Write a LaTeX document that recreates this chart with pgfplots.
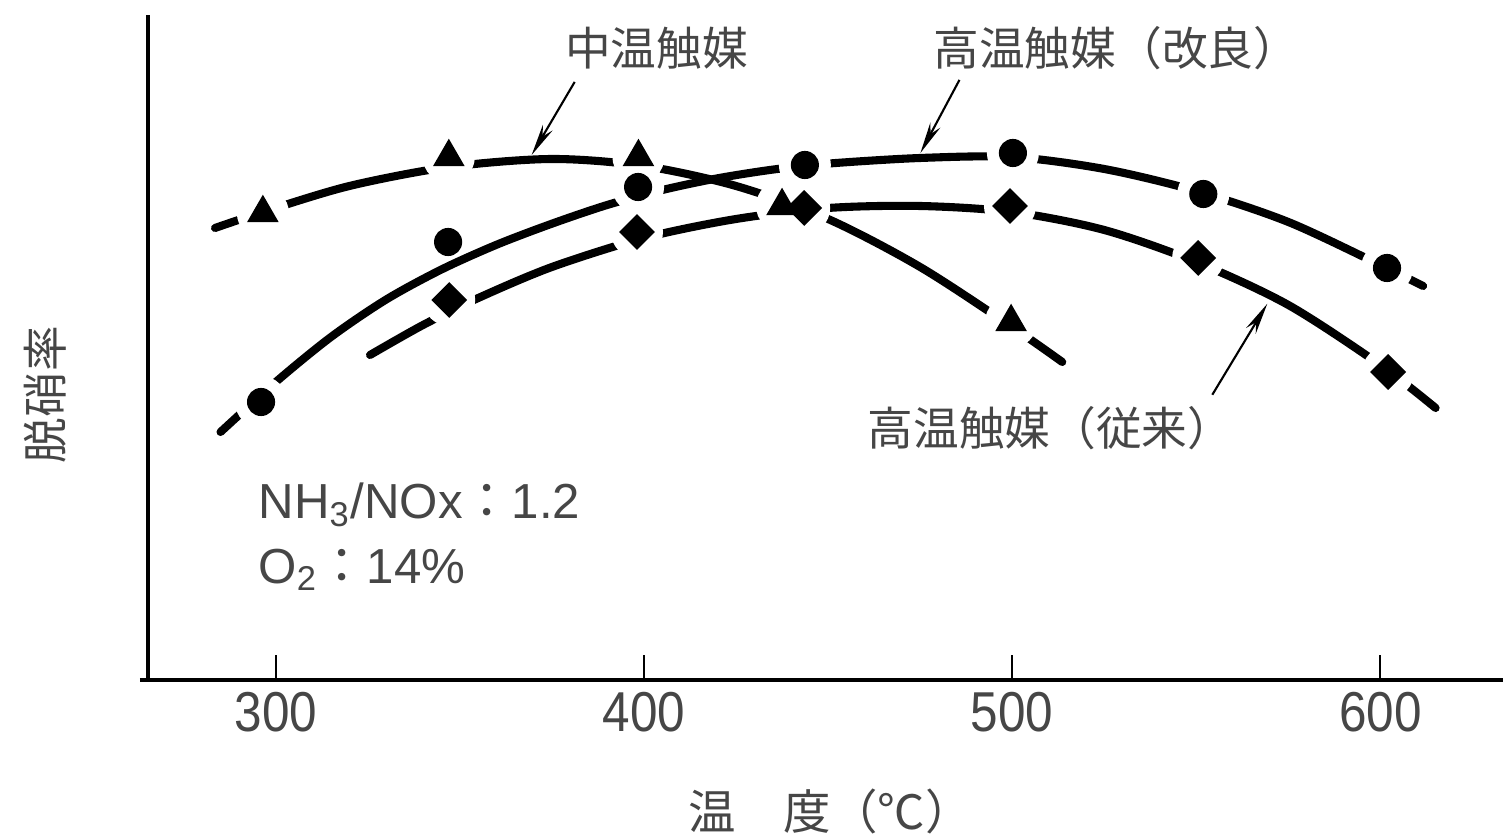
\documentclass[border=0pt]{standalone}
\usepackage{fontspec}
\usepackage{pgfplots}
\pgfplotsset{compat=1.18}
\usetikzlibrary{arrows.meta}
\setmainfont{Liberation Sans}
\newfontfamily\jp{Noto Sans CJK JP}
\newfontfamily\numfont[FakeStretch=0.88]{Liberation Sans}
\definecolor{txt}{HTML}{464646}

\begin{document}
\begin{tikzpicture}
\useasboundingbox (0,0) rectangle (15.03cm,8.34cm);
\begin{axis}[
  at={(1.48cm,1.54cm)}, anchor=south west,
  scale only axis, width=13.55cm, height=6.65cm,
  xmin=265.3, xmax=633.3, ymin=0, ymax=665,
  axis x line*=bottom, axis y line*=left,
  axis line style={line width=1.1pt, black},
  xtick={300,400,500,600}, xticklabels={300,400,500,600},
  ytick=\empty,
  tick align=inside, major tick length=0.25cm,
  tick style={line width=0.6pt, black},
  xticklabel style={font=\numfont\fontsize{16}{18}\selectfont, text=txt},
  clip=false,
]
% fitted curves
\addplot[line width=2.3pt, smooth, black, line cap=round] coordinates {
(283.5,452) (296.5,468) (320,494) (347,513) (375,521) (400,514) (425,494)
(450,461) (475,413) (500,353) (513.6,318)};
\addplot[line width=2.3pt, smooth, black, line cap=round] coordinates {
(285,248) (300,298) (315,343) (330,380.5) (345,410.5) (360,435.3) (375,456.3)
(390,475) (405,490) (420,501.7) (435,510.4) (450,516.4) (475,522) (500,523)
(525,511) (550,489) (575,458) (600,415) (611.6,394)};
\addplot[line width=2.3pt, smooth, black, line cap=round] coordinates {
(325.6,325) (340,355) (355,382) (375,413) (400,442) (425,461) (450,472) (475,474)
(500,468) (525,450) (550,418) (575,375) (600,315) (615,272)};
% white gaps around the measured points
\addplot[only marks, mark=*, mark size=7.2pt, mark options={draw=white, fill=white}] coordinates {
(296.5,467) (347.0,523) (398.5,523) (437.5,474) (499.7,358)
(296.0,278) (398.4,493) (443.7,515) (500.2,527) (551.9,486) (601.8,412)
(347.1,380) (398.1,448) (443.5,472) (499.4,474) (550.5,422) (602.1,308)};
% measured points
\addplot[only marks, mark=triangle*, mark size=4.8pt, black] coordinates {
(296.5,467) (347.0,523) (398.5,523) (437.5,474) (499.7,358)};
\addplot[only marks, mark=*, mark size=3.8pt, black] coordinates {
(296.0,278) (346.8,438) (398.4,493) (443.7,515) (500.2,527) (551.9,486) (601.8,412)};
\addplot[only marks, mark=square*, mark size=3.4pt, black, mark options={rotate=45}] coordinates {
(347.1,380) (398.1,448) (443.5,472) (499.4,474) (550.5,422) (602.1,308)};
\end{axis}
\begin{scope}[x=0.01cm, y=-0.01cm, yshift=8.34cm]
  \draw[line width=1.1pt] (140,680) -- (150,680);
  \draw[-{Stealth[length=9pt,width=3.2pt]}, line width=0.6pt] (575,82) -- (532,155);
  \draw[-{Stealth[length=9pt,width=3.2pt]}, line width=0.6pt] (960,80) -- (921,153);
  \draw[-{Stealth[length=9pt,width=3.2pt]}, line width=0.6pt] (1213,395) -- (1268,304);
  \node[text=txt, font=\jp\fontsize{13}{15}\selectfont] at (657,48) {中温触媒};
  \node[text=txt, font=\jp\fontsize{13}{15}\selectfont] at (1117,48) {高温触媒（改良）};
  \node[text=txt, font=\jp\fontsize{13}{15}\selectfont] at (1051,428) {高温触媒（従来）};
  \node[text=txt, font=\jp\fontsize{13}{15}\selectfont, rotate=90] at (45,395) {脱硝率};
  \node[text=txt, font=\jp\fontsize{13.5}{15}\selectfont] at (831,812) {温　度（℃）};
  \node[text=txt, anchor=west, inner sep=0pt, font=\fontsize{14}{16}\selectfont] at (258,505)
     {NH\textsubscript{3}/NOx{\jp ：}1.2};
  \node[text=txt, anchor=west, inner sep=0pt, font=\fontsize{14}{16}\selectfont] at (258,570)
     {O\textsubscript{2}{\jp ：}14\%};
\end{scope}
\end{tikzpicture}
\end{document}
